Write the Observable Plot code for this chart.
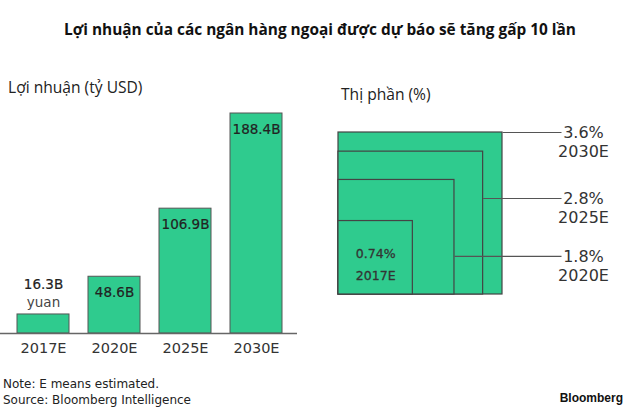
<!DOCTYPE html>
<html>
<head>
<meta charset="utf-8">
<script src="https://cdn.jsdelivr.net/npm/d3@7"></script>
<script src="https://cdn.jsdelivr.net/npm/@observablehq/plot@0.6"></script>
<style>
  html, body { margin: 0; padding: 0; background: #fff; }
  #root { position: relative; width: 630px; height: 410px; overflow: hidden; background: #fff; }
  .t { position: absolute; white-space: nowrap; }
  .plot { position: absolute; }
</style>
</head>
<body>
<div id="root"></div>
<script>
// ---- Data ----
const titleText = "Lợi nhuận của các ngân hàng ngoại được dự báo sẽ tăng gấp 10 lần";
const leftHeading = "Lợi nhuận (tỷ USD)";
const rightHeading = "Thị phần (%)";
const noteText = "Note: E means estimated.";
const sourceText = "Source: Bloomberg Intelligence";
const brandText = "Bloomberg";

const years = ["2017E", "2020E", "2025E", "2030E"];
const profits = [16.3, 48.6, 106.9, 188.4];
const profitLabels = ["16.3B", "48.6B", "106.9B", "188.4B"];
const profitUnit = "yuan";

const shareYears = ["2017E", "2020E", "2025E", "2030E"];
const shares = [0.74, 1.8, 2.8, 3.6];
const shareLabels = ["0.74%", "1.8%", "2.8%", "3.6%"];

// ---- Layout / style ----
const GREEN = "#2fcb8e";
const root = document.getElementById("root");

function addText(txt, css) {
  const d = document.createElement("div");
  d.className = "t";
  d.textContent = txt;
  Object.assign(d.style, css);
  root.appendChild(d);
  return d;
}

addText(titleText, {left: "0px", width: "640px", textAlign: "center", top: "20px", lineHeight: "20px",
  fontFamily: "'Open Sans', sans-serif", fontWeight: "700", fontSize: "15.4px", color: "#111"});
addText(leftHeading, {left: "8px", top: "77px", lineHeight: "20px",
  fontFamily: "'Open Sans', sans-serif", fontSize: "15.6px", color: "#222"});
addText(rightHeading, {left: "341px", top: "84px", lineHeight: "20px",
  fontFamily: "'Open Sans', sans-serif", fontSize: "15.6px", color: "#222"});
addText(noteText, {left: "3px", top: "376px", lineHeight: "16px",
  fontFamily: "'DejaVu Sans', sans-serif", fontSize: "12px", color: "#222"});
addText(sourceText, {left: "3px", top: "392px", lineHeight: "16px",
  fontFamily: "'DejaVu Sans', sans-serif", fontSize: "12px", color: "#222"});
addText(brandText, {right: "7px", top: "390px", lineHeight: "16px",
  fontFamily: "'Liberation Sans', Arial, sans-serif", fontWeight: "700", fontSize: "12px", color: "#111"});

// ---- Bar chart (profits) ----
const bars = years.map((y, i) => ({year: y, value: profits[i], label: profitLabels[i]}));
const inside = bars.filter(d => d.value > 30);
const above = bars.filter(d => d.value <= 30);

const barPlot = Plot.plot({
  width: 310, height: 260,
  marginLeft: 0, marginRight: 13, marginTop: 0, marginBottom: 27,
  x: {domain: years, range: [17, 282], paddingInner: 0.268, paddingOuter: 0, label: null},
  y: {domain: [0, d3.max(profits)], range: [233, 13], axis: null},
  style: {fontFamily: "'DejaVu Sans', sans-serif", fontSize: "14.5px", color: "#333", background: "transparent", overflow: "visible"},
  marks: [
    Plot.barY(bars, {x: "year", y: "value", fill: GREEN, stroke: "#555", strokeWidth: 1}),
    Plot.ruleY([0], {stroke: "#666", strokeWidth: 1.3}),
    Plot.text(inside, {x: "year", y: "value", text: "label", dy: 16, fontSize: 13.5, fill: "#222", stroke: "#222", strokeWidth: 0.2}),
    Plot.text(above, {x: "year", y: "value", text: "label", dy: -30, fontSize: 13.5, fill: "#222", stroke: "#222", strokeWidth: 0.2}),
    Plot.text(above, {x: "year", y: "value", text: () => profitUnit, dy: -12, fontSize: 13.5, fill: "#444"}),
    Plot.axisX({tickSize: 0, tickPadding: 9, fontSize: 14.5, label: null})
  ]
});
barPlot.classList.add("plot");
barPlot.style.left = "0px";
barPlot.style.top = "100px";
root.appendChild(barPlot);

// ---- Nested squares (market share, area-proportional) ----
const S = Math.sqrt(d3.max(shares));
const X0 = 18, X1 = 182, YB = 194, YT = 32;
const sx = d3.scaleLinear([0, S], [X0, X1]);
const squares = shareYears.map((y, i) => ({year: y, value: shares[i], label: shareLabels[i], side: Math.sqrt(shares[i])}))
  .sort((a, b) => b.side - a.side);
const leaderFrac = {"2020E": 0.332, "2025E": 0.672, "2030E": 1};
const labelled = squares.filter(d => leaderFrac[d.year] != null);
const innermost = squares.filter(d => leaderFrac[d.year] == null);
const lineEnd = sx.invert(241);
const labelX = sx.invert(263);

const sqPlot = Plot.plot({
  width: 310, height: 220, margin: 0,
  x: {domain: [0, S], range: [X0, X1], axis: null},
  y: {domain: [0, S], range: [YB, YT], axis: null},
  style: {fontFamily: "'DejaVu Sans', sans-serif", fontSize: "16px", color: "#333", background: "transparent", overflow: "visible"},
  marks: [
    Plot.rect(squares, {x1: () => 0, x2: "side", y1: () => 0, y2: "side", fill: GREEN, stroke: "#444", strokeWidth: 1.2}),
    Plot.link(labelled, {x1: "side", x2: () => lineEnd, y1: d => d.side * leaderFrac[d.year], y2: d => d.side * leaderFrac[d.year], stroke: "#555", strokeWidth: 1.2}),
    Plot.text(labelled, {x: () => labelX, y: d => d.side * leaderFrac[d.year], text: "label", fontSize: 16, fill: "#333"}),
    Plot.text(labelled, {x: () => labelX, y: d => d.side * leaderFrac[d.year], text: "year", dy: 19, fontSize: 16, fill: "#333"}),
    Plot.text(innermost, {x: d => d.side / 2, y: d => d.side * 0.545, text: "label", fontSize: 12.5, fill: "#333", stroke: "#333", strokeWidth: 0.3}),
    Plot.text(innermost, {x: d => d.side / 2, y: d => d.side * 0.545, text: "year", dy: 22, fontSize: 12.5, fill: "#333", stroke: "#333", strokeWidth: 0.3})
  ]
});
sqPlot.classList.add("plot");
sqPlot.style.left = "320px";
sqPlot.style.top = "100px";
root.appendChild(sqPlot);
</script>
</body>
</html>
